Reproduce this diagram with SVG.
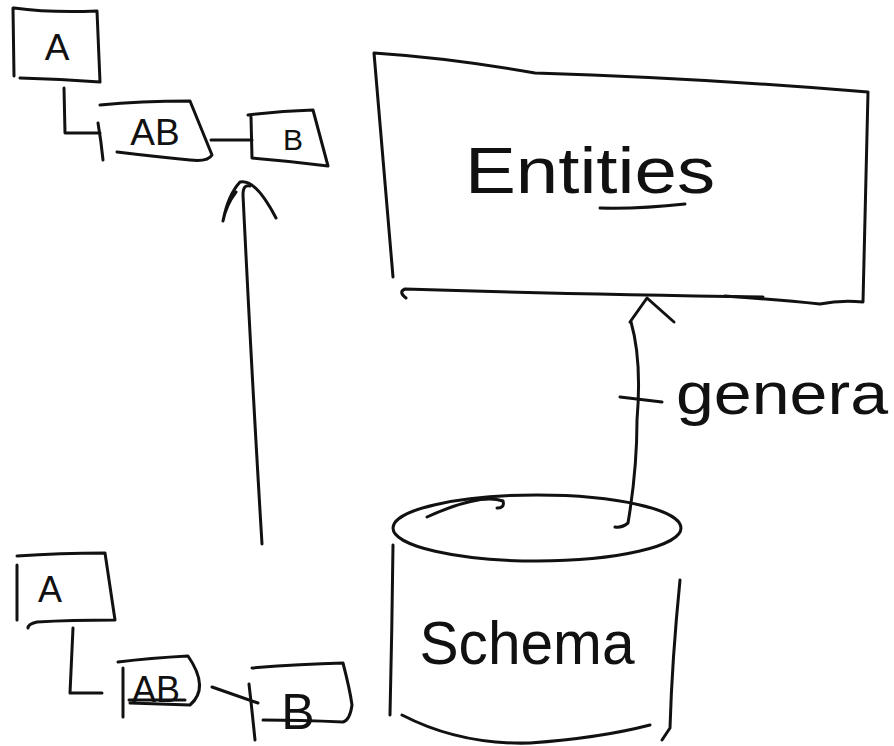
<svg xmlns="http://www.w3.org/2000/svg" width="894" height="746" viewBox="0 0 894 746">
  <style>
    .ink { fill: none; stroke: #111; stroke-width: 3; stroke-linecap: round; stroke-linejoin: round; }
    .lbl { fill: #111; font-family: "Liberation Sans", "DejaVu Sans", sans-serif; text-anchor: middle; }
  </style>
  <rect width="894" height="746" fill="#fff"/>

  <!-- upper entity sketch -->
  <g id="node-a-top">
    <path class="ink" d="M13 8 L14 76 M14 8 Q50 13 97 11 L100 82 Q60 79 20 78"/>
    <text class="lbl" x="57" y="60" font-size="37">A</text>
  </g>
  <g id="node-ab-top">
    <path class="ink" d="M100 105 Q140 101 190 101 L212 155 Q208 162 190 160 Q150 156 117 152"/>
    <text class="lbl" x="155" y="145" font-size="37">AB</text>
  </g>
  <g id="node-b-top">
    <path class="ink" d="M251 117 L252 158 Q290 161 328 166 L313 110 Q280 111 248 115"/>
    <text class="lbl" x="293" y="150" font-size="30">B</text>
  </g>

  <!-- Entities block -->
  <g id="node-entities">
    <path class="ink" d="M374 53 L393 277 M374 53 Q450 58 535 73 Q700 78 868 92 L863 302 Q840 300 820 304 Q780 300 725 296"/>
    <path class="ink" d="M406 298 Q398 292 405 289 Q560 294 763 297"/>
    <text class="lbl" x="590" y="193" font-size="64" textLength="250" lengthAdjust="spacingAndGlyphs">Entities</text>
    <path class="ink" d="M600 208 Q640 209 685 204"/>
  </g>

  <!-- Schema cylinder -->
  <g id="node-schema">
    <ellipse class="ink" cx="537" cy="528" rx="144" ry="33"/>
    <path class="ink" d="M427 517 Q480 493 503 501 Q505 508 497 508"/>
    <path class="ink" d="M393 545 Q392 630 390 715"/>
    <path class="ink" d="M680 580 Q672 660 670 728 L662 740"/>
    <path class="ink" d="M402 715 Q460 745 530 743 Q600 738 650 725"/>
    <text class="lbl" x="527" y="664" font-size="62" textLength="215" lengthAdjust="spacingAndGlyphs">Schema</text>
  </g>

  <!-- lower entity sketch -->
  <g id="node-a-bottom">
    <path class="ink" d="M17 565 L17 620 M17 556 Q60 553 105 553 L115 620 Q70 620 37 622 Q28 624 28 628"/>
    <text class="lbl" x="50" y="602" font-size="36">A</text>
  </g>
  <g id="node-ab-bottom">
    <path class="ink" d="M123 668 L123 717 M118 662 Q150 658 188 656 Q210 688 190 705 Q160 704 130 703"/>
    <text class="lbl" x="156" y="702" font-size="36">AB</text>
    <path class="ink" d="M129 700 L185 700"/>
  </g>
  <g id="node-b-bottom">
    <path class="ink" d="M252 668 Q300 664 343 663 Q350 690 352 705 Q350 720 343 722 Q300 720 263 720"/>
    <text class="lbl" x="298" y="729" font-size="50">B</text>
  </g>

  <!-- connectors -->
  <g id="connectors">
    <!-- A to AB (top) -->
    <path class="ink" d="M64 88 L65 133 L100 133"/>
    <path class="ink" d="M98 123 Q101 140 103 160"/>
    <!-- AB to B (top) -->
    <path class="ink" d="M211 140 L252 140"/>
    <!-- long upward arrow -->
    <path class="ink" d="M262 544 Q252 380 243 195 Q243 184 250 186"/>
    <path class="ink" d="M223 221 Q228 195 240 182 Q255 178 276 218 M223 221 Q226 205 236 192"/>
    <!-- Schema to Entities -->
    <path class="ink" d="M615 527 Q622 528 628 523 Q637 470 637 420 Q642 360 631 322"/>
    <path class="ink" d="M630 322 L647 298 L674 322"/>
    <path class="ink" d="M620 397 L662 402"/>
    <text class="lbl" x="782" y="414" font-size="60" textLength="212" lengthAdjust="spacingAndGlyphs">genera</text>
    <!-- A to AB (bottom) -->
    <path class="ink" d="M73 628 L70 693 L102 693"/>
    <!-- AB to B (bottom) -->
    <path class="ink" d="M212 687 L258 703"/>
    <path class="ink" d="M249 684 Q252 710 255 740"/>
  </g>
</svg>
